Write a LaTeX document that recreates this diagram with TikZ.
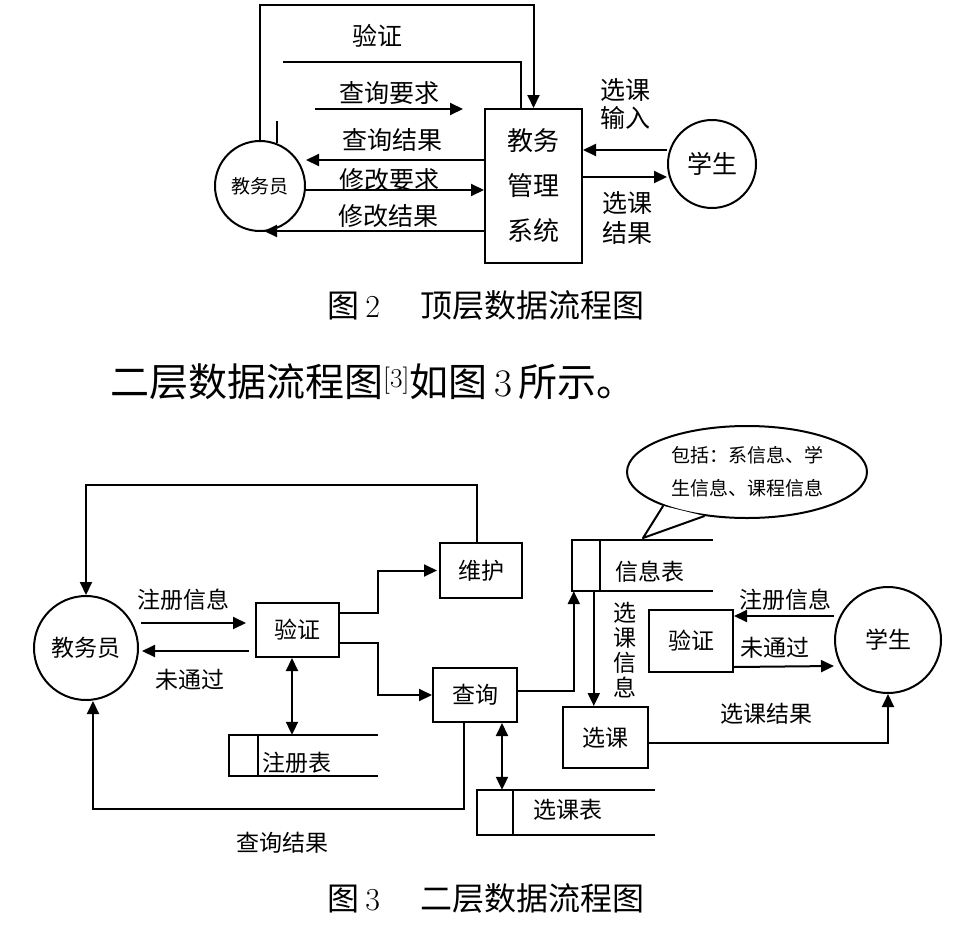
\documentclass[tikz,border=0pt]{standalone}
\usepackage{fontspec}
\usetikzlibrary{arrows.meta,shapes.geometric}
\newfontfamily\hei{Noto Sans CJK SC}
\tikzset{
  line/.style={line width=2pt},
  flow/.style={line width=2pt,-{Triangle[length=13pt,width=12pt]}},
  both/.style={line width=2pt,{Triangle[length=13pt,width=12pt]}-{Triangle[length=13pt,width=12pt]}},
  ent/.style={draw,circle,line width=2pt,inner sep=0pt},
  proc/.style={draw,rectangle,line width=2pt,inner sep=0pt},
  store/.style={rectangle,inner sep=0pt},
  lbl/.style={inner sep=0pt},
  t19/.style={font=\hei\fontsize{19}{24}\selectfont},
  t23/.style={font=\hei\fontsize{23}{28}\selectfont},
  t25/.style={font=\hei\fontsize{25}{30}\selectfont},
}

\begin{document}
\begin{tikzpicture}[x=1pt,y=-1pt]
\useasboundingbox (0,0) rectangle (979,950);
% top level: entities and system
\node[ent,t19,minimum size=90pt] (jwy) at (260,186) {教务员};
\node[proc,align=center,font=\hei\fontsize{26}{45}\selectfont,minimum width=97pt,minimum height=154pt] (sys) at (533.5,186) {教务\\管理\\系统};
\node[ent,t25,minimum size=88pt] (xs) at (712,164) {学生};
% top level: flows
\draw[flow] (jwy.north) -- ++(0,-135) -| (sys.north);
\coordinate (yzs) at (283,62);
\draw[line] (yzs) -| ([xshift=-13pt]sys.north);
\draw[line] (jwy.68) -- ++(0,-22);
\coordinate (cyq) at (315,109);
\draw[flow] (cyq) -- ++(148,0);
\draw[flow] ([yshift=26pt]sys.west) -- ([yshift=26pt]jwy.east);
\draw[flow] ([yshift=-4pt]jwy.east) -- ([yshift=-4pt]sys.west);
\draw[flow] ([yshift=-45pt]sys.west) -- ++(-220,0);
\draw[flow] ([yshift=14pt]xs.west) -- ([yshift=36pt]sys.east);
\draw[flow] ([yshift=9pt]sys.east) -- ([yshift=-13pt]xs.west);
% top level: labels
\node[lbl,t25] (l1) at (377,36) {验证};
\node[lbl,t25] (l2) at (389,93) {查询要求};
\node[lbl,t25] (l3) at (392,140) {查询结果};
\node[lbl,t25] (l4) at (389,180) {修改要求};
\node[lbl,t25] (l5) at (388,216) {修改结果};
\node[lbl,align=center,font=\hei\fontsize{25}{28}\selectfont] (l6) at (625,104) {选课\\输入};
\node[lbl,align=center,font=\hei\fontsize{25}{30}\selectfont] (l7) at (627,218) {选课\\结果};
% captions and text line
\node[lbl,font=\fontsize{32}{36}\selectfont] (cap2) at (486,305) {{\hei 图}\,2\hspace{40pt}{\hei 顶层数据流程图}};
\node[lbl,anchor=west,font=\fontsize{39}{44}\selectfont] (para) at (110,382) {{\hei 二层数据流程图}\textsuperscript{[3]}{\hei 如图}\,3\,{\hei 所示。}};
\node[lbl,font=\fontsize{32}{36}\selectfont] (cap3) at (486,898) {{\hei 图}\,3\hspace{40pt}{\hei 二层数据流程图}};
% second level: entities and processes
\node[ent,t23,minimum size=104pt] (jwy2) at (86,648) {教务员};
\node[proc,t23,minimum width=83pt,minimum height=54pt] (yz2) at (297.5,630) {验证};
\node[proc,t23,minimum width=82pt,minimum height=55pt] (wh) at (481,570.5) {维护};
\node[proc,t23,minimum width=84pt,minimum height=54pt] (cx) at (475,695) {查询};
\node[proc,t23,minimum width=85pt,minimum height=61pt] (xk) at (605.5,737.5) {选课};
\node[proc,t23,minimum width=84pt,minimum height=62pt] (yz3) at (691,641) {验证};
\node[ent,t23,minimum size=106pt] (xs2) at (888,640) {学生};
% data stores
\node[store,minimum width=149pt,minimum height=41pt] (zcb) at (303.5,755.5) {};
\draw[line] (zcb.north east) -- (zcb.north west) -- (zcb.south west) -- (zcb.south east);
\draw[line] ([xshift=29pt]zcb.north west) -- ([xshift=29pt]zcb.south west);
\node[lbl,t23,anchor=west] (zcbt) at (262,763) {注册表};
\node[store,minimum width=141pt,minimum height=51pt] (xxb) at (642.5,565.5) {};
\draw[line] (xxb.north east) -- (xxb.north west) -- (xxb.south west) -- (xxb.south east);
\draw[line] ([xshift=28pt]xxb.north west) -- ([xshift=28pt]xxb.south west);
\node[lbl,t23,anchor=west] (xxbt) at (615,572) {信息表};
\node[store,minimum width=178pt,minimum height=45pt] (xkb) at (566,812.5) {};
\draw[line] (xkb.north east) -- (xkb.north west) -- (xkb.south west) -- (xkb.south east);
\draw[line] ([xshift=36pt]xkb.north west) -- ([xshift=36pt]xkb.south west);
\node[lbl,t23,anchor=west] (xkbt) at (533,810) {选课表};
% note bubble
\node[draw,ellipse,line width=2pt,inner sep=0pt,minimum width=240pt,minimum height=92pt,align=center,font=\hei\fontsize{19}{33}\selectfont] (bz) at (747,472) {包括：系信息、学\\生信息、课程信息};
\coordinate (bzt) at (643,538);
\fill[white] (bz.202) -- (bzt) -- (bz.226) -- cycle;
\draw[line,line join=round] (bz.202) -- (bzt) -- (bz.226);
% second level: flows
\draw[flow] ([xshift=-4pt]wh.north) -- ++(0,-57) -| (jwy2.north);
\draw[flow] ([xshift=-114pt,yshift=7pt]yz2.west) -- ([xshift=-9pt,yshift=7pt]yz2.west);
\draw[flow] ([xshift=-6pt,yshift=-21pt]yz2.west) -- ++(-107,0);
\draw[flow] ([yshift=17pt]yz2.east) -- ++(38,0) |- ([xshift=-2pt]wh.west);
\draw[flow] ([yshift=-13pt]yz2.east) -- ++(38,0) |- (cx.west);
\draw[both] ([xshift=-5.5pt]yz2.south) -- ([xshift=-5.5pt]yz2.south |- zcb.north);
\draw[flow] ([xshift=-11pt]cx.south) -- ++(0,86) -| ([xshift=7pt]jwy2.south);
\draw[both] ([xshift=27pt]cx.south) -- ([xshift=27pt]cx.south |- xkb.north);
\draw[flow] ([yshift=4pt]cx.east) -| ([xshift=2pt]xxb.south west);
\draw[flow] ([xshift=22pt]xxb.south west) -- ([xshift=22pt]xxb.south west |- xk.north);
\draw[flow] ([yshift=24pt]xs2.west) -- ([yshift=25pt]yz3.east);
\draw[flow] ([yshift=-26pt]yz3.east) -- ([yshift=-26pt]xs2.west);
\draw[flow] ([yshift=-5.5pt]xk.east) -| (xs2.south);
% second level: labels
\node[lbl,t23] (l21) at (183,600) {注册信息};
\node[lbl,t23] (l22) at (190,680) {未通过};
\node[lbl,t23] (l23) at (282,843) {查询结果};
\node[lbl,t23] (l24) at (766,714) {选课结果};
\node[lbl,t23] (l25) at (785,600) {注册信息};
\node[lbl,t23] (l26) at (775,648) {未通过};
\node[lbl,align=center,font=\hei\fontsize{23}{25}\selectfont] (l27) at (625,650.5) {选\\课\\信\\息};
\end{tikzpicture}
\end{document}
